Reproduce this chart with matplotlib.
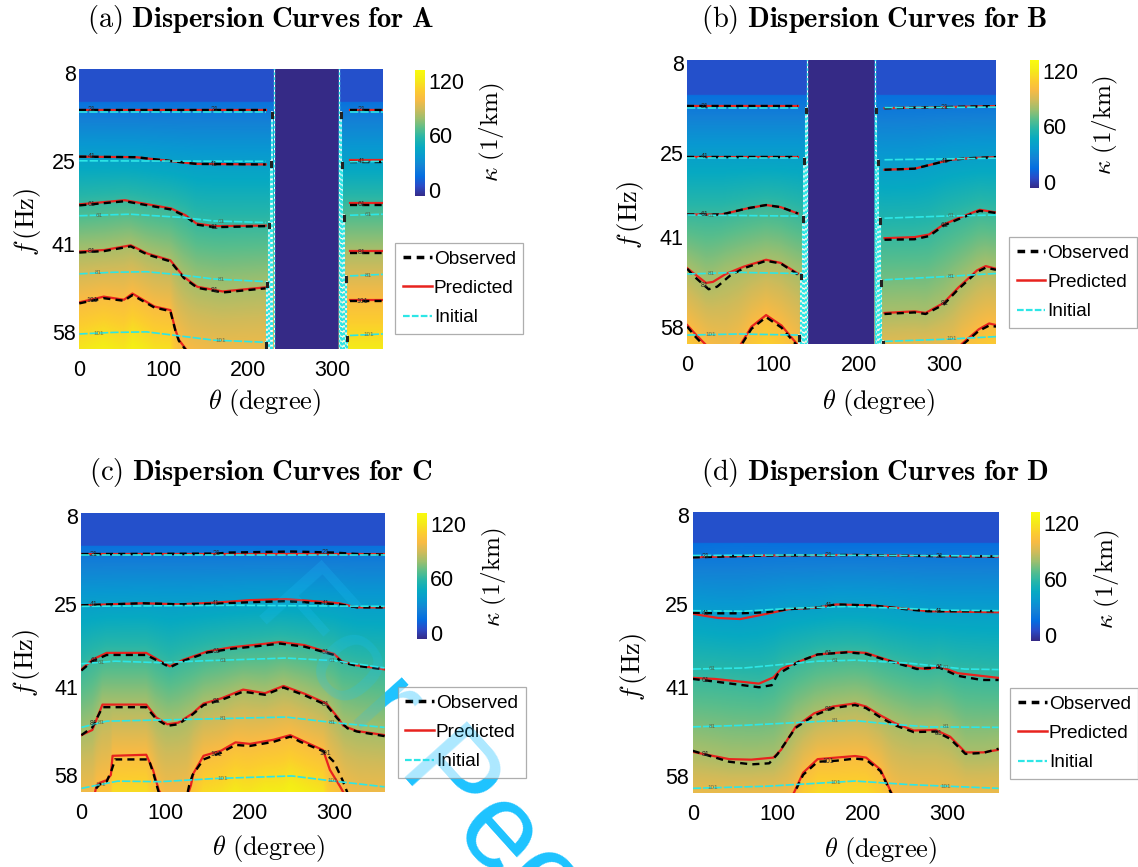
import numpy as np
import matplotlib
matplotlib.use("Agg")
import matplotlib.pyplot as plt
from matplotlib.colors import LinearSegmentedColormap, Normalize
from matplotlib.lines import Line2D

plt.rcParams["mathtext.fontset"] = "cm"
plt.rcParams["font.family"] = ["Liberation Sans", "DejaVu Sans"]

# ---------------- data ----------------
levels = [21, 41, 61, 81, 101]          # kappa contour levels (1/km)
kappa_range = (-7, 132)                  # colour limits
kappa_band = 6                           # kappa in the low-frequency band
band_f = [13.7, 13.9, 13.7, 13.3]        # upper limit (Hz) of that band, per panel
gaps = [(231, 308), (140.5, 218.3), None, None]   # theta range without data
panel_names = ["A", "B", "C", "D"]
x_ticks = [0, 100, 200, 300]
y_ticks = [8, 25, 41, 58]
cbar_ticks = [0, 60, 120]
legend_labels = ["Observed", "Predicted", "Initial"]
label_theta = [[15, 160, 335], [20, 300], [15, 160, 290], [15, 160, 290]]  # contour-label spots

# each line: list of (theta in degree, f in Hz)
A_pred = [
    [(0, 15.2), (221, 15.2), (321, 15.2), (360, 15.2)],
    [(0, 24.2), (67, 24.3), (139, 25.6), (221, 25.7), (321, 24.8), (360, 24.8)],
    [(0, 33.4), (54, 32.6), (109, 34.2), (126, 35.5), (139, 37.1), (160, 37.6), (221, 37.5), (321, 33.1), (360, 33.1)],
    [(0, 42.5), (30, 42.2), (61, 41.3), (81, 42.9), (108, 44.2), (124, 47.4), (140, 49.3), (170, 50.2), (221, 49.4), (321, 42.4), (360, 42.4)],
    [(0, 52.3), (29, 51.2), (53, 51.8), (63, 50.6), (89, 53.1), (108, 53.8), (114, 57.6), (118, 59.5), (124, 60.8), (132, 62.5), (160, 64), (221, 64), (321, 51.8), (360, 51.8)],
]
A_obs = [
    A_pred[0],
    [(0, 24.2), (67, 24.3), (139, 25.6), (221, 25.7), (321, 25.2), (360, 25.2)],
    [(0, 33.6), (54, 32.8), (109, 34.4), (126, 35.7), (139, 37.3), (160, 37.8), (221, 37.6), (321, 33.5), (360, 33.5)],
    [(0, 42.7), (30, 42.4), (61, 41.5), (81, 43.1), (108, 44.4), (124, 47.6), (140, 49.5), (170, 50.4), (221, 49.6), (321, 42.7), (360, 42.7)],
    [(0, 52.5), (29, 51.5), (53, 52.0), (63, 50.9), (89, 53.3), (108, 54.0), (114, 57.8), (118, 59.7), (124, 61.0), (132, 62.7), (160, 64), (221, 64), (321, 52.1), (360, 52.1)],
]
A_init = [
    [(0, 15.6), (221, 15.6), (321, 15.6), (360, 15.6)],
    [(0, 25.0), (221, 25.1), (321, 25.2), (360, 25.1)],
    [(0, 35.6), (60, 35.3), (120, 35.9), (160, 36.6), (221, 36.9), (321, 35.5), (360, 35.3)],
    [(0, 46.8), (40, 46.5), (80, 46.4), (120, 47.0), (160, 47.8), (221, 48.3), (321, 47.2), (360, 46.9)],
    [(0, 58.4), (40, 58.1), (80, 58.0), (120, 58.8), (160, 59.6), (221, 60.0), (321, 58.7), (360, 58.4)],
]

B_pred = [
    [(0, 16.1), (129, 16.1), (230, 16.5), (300, 16.3), (360, 16.1)],
    [(0, 25.7), (129, 25.7), (230, 28.2), (265, 28.0), (307, 26.3), (330, 26.0), (360, 25.8)],
    [(0, 36.7), (40, 36.7), (71, 35.5), (92, 34.9), (109, 35.3), (129, 36.5), (230, 41.2), (265, 41.0), (282, 40.5), (299, 38.6), (316, 37.4), (341, 35.8), (360, 36.3)],
    [(0, 46.9), (7, 47.8), (22, 49.7), (30, 49.5), (45, 48.0), (66, 46.6), (92, 45.3), (109, 45.9), (129, 47.9), (230, 55.4), (265, 55.1), (278, 55.4), (299, 53.5), (316, 50.6), (338, 47.3), (348, 46.5), (360, 47.0)],
    [(0, 57.7), (10, 59.5), (25, 62.0), (45, 64.0), (60, 62.0), (75, 58.0), (92, 55.8), (110, 57.8), (129, 61.5), (135, 63.0), (230, 65.0), (310, 64.0), (320, 61.3), (340, 58.5), (352, 57.4), (360, 57.7)],
]
B_obs = [
    B_pred[0],
    B_pred[1],
    [(0, 36.7), (40, 36.7), (71, 35.5), (92, 34.9), (109, 35.3), (129, 36.5), (230, 41.5), (265, 41.4), (282, 40.8), (299, 38.8), (316, 37.6), (341, 36.0), (360, 36.4)],
    [(0, 47.0), (7, 48.3), (25, 50.9), (35, 50.4), (50, 48.3), (66, 46.9), (92, 45.5), (109, 46.0), (129, 48.1), (230, 55.6), (265, 55.3), (278, 55.6), (299, 53.8), (316, 50.9), (338, 47.6), (348, 46.8), (360, 47.2)],
    [(0, 58.0), (10, 60.0), (25, 62.5), (45, 64.0), (60, 62.3), (75, 58.4), (92, 56.2), (110, 58.2), (129, 61.8), (135, 63.0), (230, 65.0), (310, 64.0), (320, 61.6), (340, 58.8), (352, 57.8), (360, 58.0)],
]
B_init = [
    [(0, 16.4), (129, 16.4), (230, 16.4), (360, 16.3)],
    [(0, 26.0), (129, 26.0), (230, 26.3), (360, 26.0)],
    [(0, 36.8), (129, 37.0), (230, 37.4), (300, 37.0), (360, 36.8)],
    [(0, 48.0), (60, 47.7), (129, 47.9), (230, 49.1), (300, 48.5), (360, 47.9)],
    [(0, 59.6), (60, 59.4), (129, 59.6), (230, 60.8), (300, 60.4), (360, 59.9)],
]

C_pred = [
    [(0, 15.3), (360, 15.3)],
    [(0, 25.2), (73, 24.8), (115, 25.0), (158, 24.7), (200, 24.2), (243, 24.0), (285, 24.5), (306, 24.8), (327, 25.6), (360, 25.6)],
    [(0, 37.6), (13, 35.7), (30, 34.4), (77, 34.4), (94, 36.0), (105, 37.0), (120, 35.8), (150, 34.1), (179, 33.3), (209, 32.8), (236, 32.3), (265, 32.9), (287, 34.0), (300, 34.6), (309, 36.0), (327, 36.8), (360, 37.6)],
    [(0, 50.3), (13, 49.3), (25, 44.4), (77, 44.4), (89, 46.9), (102, 48.2), (115, 47.9), (132, 46.1), (145, 44.2), (166, 43.2), (192, 41.5), (218, 42.2), (240, 40.8), (265, 42.3), (291, 44.2), (304, 46.8), (311, 48.5), (327, 49.5), (360, 50.3)],
    [(0, 63.5), (14, 63.0), (18, 60.0), (22, 59.5), (30, 59.0), (35, 58.0), (37, 54.3), (77, 54.1), (85, 57.0), (92, 61.0), (100, 63.0), (125, 62.5), (130, 60.0), (133, 57.7), (145, 54.3), (166, 53.3), (183, 51.7), (200, 52.0), (228, 51.2), (248, 50.3), (260, 51.2), (287, 53.2), (295, 57.0), (307, 60.2), (315, 62.5), (330, 64.0), (360, 64.0)],
]
C_obs = [
    [(0, 15.3), (160, 15.2), (175, 15.0), (250, 14.8), (300, 15.0), (330, 15.3), (360, 15.4)],
    [(0, 25.2), (73, 24.8), (115, 25.0), (158, 24.9), (200, 24.6), (243, 24.4), (285, 24.8), (306, 25.0), (327, 25.6), (360, 25.6)],
    [(0, 37.8), (13, 36.0), (30, 34.8), (77, 34.8), (94, 36.2), (105, 37.2), (120, 36.0), (150, 34.3), (179, 33.6), (209, 33.1), (236, 32.6), (265, 33.2), (287, 34.2), (300, 34.8), (309, 36.2), (327, 36.9), (360, 37.6)],
    [(0, 50.3), (13, 48.8), (25, 44.9), (77, 44.9), (89, 47.2), (102, 48.5), (115, 48.2), (132, 46.3), (145, 44.5), (166, 43.5), (192, 41.9), (218, 42.5), (240, 41.1), (265, 42.6), (291, 44.5), (304, 47.1), (316, 49.0), (327, 49.6), (360, 50.5)],
    [(0, 63.5), (14, 63.0), (18, 60.5), (22, 59.8), (30, 59.3), (36, 57.0), (40, 55.0), (80, 55.0), (86, 58.0), (92, 61.5), (100, 63.5), (124, 63.0), (128, 60.0), (132, 58.0), (145, 55.0), (166, 53.7), (183, 52.2), (200, 52.4), (228, 51.6), (248, 50.6), (260, 51.6), (287, 53.4), (300, 55.5), (310, 59.0), (316, 61.5), (330, 64.0), (360, 64.0)],
]
C_init = [
    [(0, 15.4), (360, 15.4)],
    [(0, 25.4), (180, 25.2), (360, 25.4)],
    [(0, 36.5), (40, 36.0), (94, 36.3), (150, 35.9), (243, 35.4), (300, 35.9), (360, 37.3)],
    [(0, 48.8), (30, 47.6), (115, 47.3), (243, 46.8), (300, 47.9), (360, 48.8)],
    [(0, 60.6), (43, 59.2), (94, 59.3), (158, 58.7), (250, 58.2), (300, 59.2), (360, 60.3)],
]

D_pred = [
    [(0, 16.05), (87, 15.7), (191, 15.6), (277, 15.8), (360, 15.9)],
    [(0, 26.9), (30, 27.7), (56, 27.9), (87, 26.9), (113, 26.0), (147, 25.7), (169, 25.1), (212, 25.3), (256, 26.0), (277, 26.4), (360, 26.6)],
    [(0, 39.2), (26, 39.4), (78, 40.3), (95, 39.1), (104, 37.5), (126, 36.0), (147, 34.7), (182, 34.2), (204, 34.4), (234, 36.0), (264, 37.3), (277, 37.5), (290, 37.0), (312, 38.3), (360, 39.2)],
    [(0, 53.4), (43, 54.8), (69, 54.9), (95, 54.5), (104, 53.0), (121, 48.6), (143, 46.0), (165, 44.7), (191, 44.1), (204, 44.7), (221, 46.4), (238, 47.9), (260, 49.3), (286, 49.2), (303, 50.5), (321, 53.5), (342, 53.5), (360, 53.0)],
    [(0, 64.0), (110, 63.0), (119, 61.3), (130, 57.4), (147, 54.8), (169, 54.5), (191, 54.2), (204, 54.5), (221, 56.8), (234, 61.3), (245, 63.0), (360, 64.0)],
]
D_obs = [
    D_pred[0],
    [(0, 26.7), (30, 26.8), (56, 26.8), (87, 26.6), (113, 26.0), (147, 25.7), (169, 25.1), (212, 25.3), (256, 26.1), (277, 26.4), (360, 26.4)],
    [(0, 39.4), (26, 39.9), (78, 41.0), (93, 40.6), (100, 38.5), (126, 36.0), (147, 34.7), (182, 34.3), (204, 34.6), (234, 36.1), (264, 37.5), (277, 37.3), (290, 37.2), (312, 38.8), (340, 39.6), (360, 39.6)],
    [(0, 53.2), (43, 55.3), (69, 55.8), (90, 55.6), (100, 53.8), (121, 48.8), (143, 46.4), (165, 45.0), (191, 44.4), (204, 45.0), (221, 46.8), (238, 48.3), (260, 49.6), (286, 49.5), (303, 50.9), (321, 53.8), (342, 53.6), (360, 52.8)],
    [(0, 64.0), (110, 63.0), (119, 61.5), (130, 57.8), (147, 55.3), (169, 55.1), (191, 54.7), (204, 54.9), (221, 57.1), (234, 61.5), (245, 63.0), (360, 64.0)],
]
D_init = [
    [(0, 15.7), (120, 15.6), (240, 15.7), (360, 15.8)],
    [(0, 26.3), (60, 26.4), (120, 25.8), (180, 25.5), (240, 25.8), (300, 26.2), (360, 26.3)],
    [(0, 37.5), (60, 37.3), (147, 36.0), (191, 35.8), (256, 36.4), (320, 37.5), (360, 37.6)],
    [(0, 48.6), (61, 48.3), (156, 47.5), (191, 47.4), (234, 48.1), (277, 48.6), (360, 48.7)],
    [(0, 60.4), (87, 60.0), (191, 59.0), (256, 59.7), (360, 60.4)],
]

preds = [A_pred, B_pred, C_pred, D_pred]
obss = [A_obs, B_obs, C_obs, D_obs]
inits = [A_init, B_init, C_init, D_init]

# ---------------- styling / layout ----------------
PARULA = [(0.2081, 0.1663, 0.5292), (0.1707, 0.2919, 0.7792), (0.0165, 0.4266, 0.8786),
          (0.0779, 0.5040, 0.8384), (0.0343, 0.5966, 0.8199), (0.0267, 0.6642, 0.7607),
          (0.1453, 0.7098, 0.6646), (0.3482, 0.7424, 0.5473), (0.6099, 0.7473, 0.4337),
          (0.8185, 0.7327, 0.3498), (0.9739, 0.7314, 0.2666), (0.9880, 0.8066, 0.1794),
          (0.9598, 0.9218, 0.0948), (0.9763, 0.9831, 0.0538)]
cmap = LinearSegmentedColormap.from_list("parula", PARULA, N=256)
cmap.set_bad(PARULA[0])
norm = Normalize(*kappa_range)

W, H = 1138, 867
def rect(x0, y0, x1, y1):
    return [x0 / W, 1 - y1 / H, (x1 - x0) / W, (y1 - y0) / H]

layout = [
    dict(ax=(79.3, 69.3, 382.9, 349), cax=(415.4, 70, 425, 196), leg=(395.4, 243), title=(260.7, 20),
         cbl=(492.9, 132), yl=(27.5, 222), xl=(264.3, 402), tag="a"),
    dict(ax=(687.2, 60, 996, 344), cax=(1030, 60, 1039.2, 188), leg=(1009, 237), title=(874.2, 20),
         cbl=(1105.5, 125), yl=(630, 215), xl=(878.8, 402), tag="b"),
    dict(ax=(81.4, 513, 384.6, 792), cax=(417.1, 513, 426.8, 639), leg=(397.5, 687), title=(260.7, 472),
         cbl=(494.6, 577.5), yl=(26.8, 662.5), xl=(268.75, 848), tag="c"),
    dict(ax=(692.7, 512, 998.6, 793), cax=(1030.7, 512, 1040.3, 641), leg=(1010.4, 688), title=(875.2, 472),
         cbl=(1107.4, 579), yl=(633.7, 666.7), xl=(880.7, 850), tag="d"),
]

RED = "#e8231e"
CYAN = "#2de6e6"

def arr(line):
    a = np.array(line, dtype=float)
    return a[:, 0], a[:, 1]

def field(pred, fb, gap):
    th = np.linspace(0, 360, 721)
    ff = np.linspace(7.2, 61.5, 544)
    F = np.array([np.interp(th, *arr(l)) for l in pred])
    K = np.empty((ff.size, th.size))
    lv = np.array(levels, float)
    for j in range(th.size):
        fl = np.maximum.accumulate(F[:, j] + np.arange(5) * 1e-3)
        s0 = (lv[1] - lv[0]) / (fl[1] - fl[0])
        s1 = (lv[-1] - lv[-2]) / (fl[-1] - fl[-2])
        xs = np.concatenate([[fl[0] - 40], fl, [fl[-1] + 40]])
        ys = np.concatenate([[lv[0] - 40 * s0], lv, [lv[-1] + 40 * s1]])
        K[:, j] = np.interp(ff, xs, ys)
    K[ff < fb, :] = kappa_band
    if gap is not None:
        K[:, (th > gap[0]) & (th < gap[1])] = np.nan
    return th, ff, np.ma.masked_invalid(K)

def pieces(line, gap):
    t, f = arr(line)
    if gap is None:
        return [(t, f)]
    l = t <= gap[0]
    r = t >= gap[1]
    return [(t[l], f[l]), (t[r], f[r])]

fig = plt.figure(figsize=(W / 100, H / 100), dpi=100)
tick_font = dict(family=["Liberation Sans", "DejaVu Sans"], size=15.5)

for k in range(4):
    L = layout[k]
    gap = gaps[k]
    ax = fig.add_axes(rect(*L["ax"]))
    th, ff, K = field(preds[k], band_f[k], gap)
    im = ax.imshow(K, extent=[th[0], th[-1], ff[-1], ff[0]], aspect="auto", cmap=cmap, norm=norm,
                   interpolation="bilinear", origin="upper")
    for i in range(5):
        for t, f in pieces(preds[k][i], gap):
            ax.plot(t, f, color=RED, lw=1.6, zorder=3)
        for t, f in pieces(obss[k][i], gap):
            ax.plot(t, f, color="black", lw=1.7, dashes=(3, 2.2), zorder=4)
        for t, f in pieces(inits[k][i], gap):
            ax.plot(t, f, color=CYAN, lw=1.2, dashes=(5, 1.2), zorder=5)
        # small contour labels
        for tl in label_theta[k]:
            t, f = arr(obss[k][i])
            fl = np.interp(tl, t, f)
            if fl < 60.5:
                ax.text(tl, fl, str(levels[i]), fontsize=5, color="#2a2a2a", ha="center", va="center",
                        zorder=7, clip_on=True)
            t, f = arr(inits[k][i])
            fl = np.interp(tl + 8, t, f)
            if fl < 60.8 and i > 1:
                ax.text(tl + 8, fl, str(levels[i]), fontsize=4.5, color="#505a40", ha="center",
                        va="center", zorder=7, alpha=0.8, clip_on=True)
    # bunched contours along the edges of the empty sector
    if gap is not None:
        for side, edge in ((-1, gap[0]), (1, gap[1])):
            ax.plot([edge + side * 0.5] * 2, [7.0, 62], color="white", lw=0.8, zorder=5)
            ax.plot([edge + side * 0.5] * 2, [7.0, 62], color=CYAN, lw=1.0, dashes=(2, 1.5), zorder=6)
            for i in range(5):
                t, f = arr(inits[k][i])
                idx = np.argmax(t >= gap[1]) if side > 0 else np.where(t <= gap[0])[0][-1]
                x = edge + side * (2.0 + 2.0 * i)
                ax.plot([x, x], [f[idx], 62], color="white", lw=1.2, zorder=5)
                ax.plot([x, x], [f[idx], 62], color=CYAN, lw=1.6, dashes=(1.2, 1.0), zorder=6)
                ax.plot([x, x], [f[idx] + 0.2, f[idx] + 0.9], color="#222222", lw=2.2, zorder=6)
    ax.set_xlim(0, 360)
    ax.set_ylim(61.3, 7.35)
    ax.set_xticks(x_ticks)
    ax.set_yticks(y_ticks)
    ax.set_xticklabels([str(v) for v in x_ticks], **tick_font)
    ax.set_yticklabels([str(v) for v in y_ticks], **tick_font)
    ax.tick_params(length=0, pad=2.5)
    ax.tick_params(axis="x", pad=8)
    for s in ax.spines.values():
        s.set_visible(False)

    cax = fig.add_axes(rect(*L["cax"]))
    cb = fig.colorbar(im, cax=cax, ticks=cbar_ticks)
    cb.outline.set_visible(False)
    cax.tick_params(length=0, pad=2.5)
    cax.set_yticklabels([str(v) for v in cbar_ticks], **tick_font)

    handles = [Line2D([], [], color="black", lw=2.5, dashes=(2.2, 1.6)),
               Line2D([], [], color=RED, lw=1.8),
               Line2D([], [], color=CYAN, lw=1.6, dashes=(3, 1))]
    lx, ly = L["leg"]
    leg = fig.legend(handles, legend_labels, loc="upper left", bbox_to_anchor=(lx / W, 1 - ly / H),
                     bbox_transform=fig.transFigure, frameon=True, fancybox=False,
                     borderpad=0.4, labelspacing=0.62, handlelength=1.5, handletextpad=0.12,
                     borderaxespad=0, prop=dict(family=["Liberation Sans"], size=13.7))
    leg.get_frame().set_edgecolor("#9a9a9a")
    leg.get_frame().set_linewidth(0.9)

    tx, ty = L["title"]
    fig.text(tx / W, 1 - ty / H,
             r"$\mathrm{(%s)}\ \mathbf{Dispersion\ Curves\ for\ %s}$" % (L["tag"], panel_names[k]),
             ha="center", va="center", fontsize=20.5)
    cx, cy = L["cbl"]
    fig.text(cx / W, 1 - cy / H, r"$\kappa\ \mathrm{(1/km)}$", rotation=90, ha="center", va="center",
             fontsize=18)
    yx, yy = L["yl"]
    fig.text(yx / W, 1 - yy / H, r"$f\,\mathrm{(Hz)}$", rotation=90, ha="center", va="center", fontsize=19)
    xx, xy = L["xl"]
    fig.text(xx / W, 1 - xy / H, r"$\theta\ \mathrm{(degree)}$", ha="center", va="center", fontsize=19)

# watermark of the source document
wm = dict(rotation=-48, rotation_mode="anchor", ha="left", va="baseline", fontsize=88,
          color="#1ec3ff", family=["Liberation Sans"])
fig.text(252 / W, 1 - 608 / H, "For Peer Review", zorder=-1, **wm)
fig.text(252 / W, 1 - 608 / H, "For Peer Review", zorder=20, alpha=0.2, **wm)

fig.savefig("out.png", dpi=100)
